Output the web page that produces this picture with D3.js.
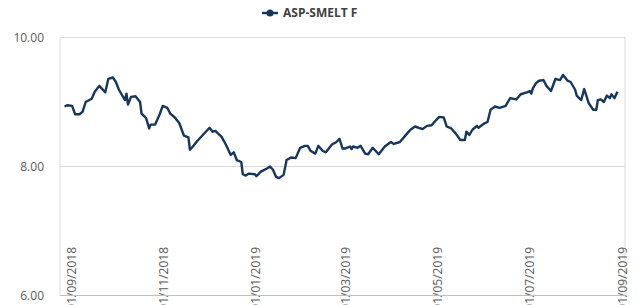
<!DOCTYPE html>
<html><head><meta charset="utf-8">
<script src="https://cdn.jsdelivr.net/npm/d3@7/dist/d3.min.js"></script>
<style>body{margin:0;background:#fff}svg{display:block}</style>
</head><body>
<svg id="c" width="637" height="305"></svg>
<script>
const seriesName = "ASP-SMELT F";
const dates = ["2018-08-27","2018-08-29","2018-09-01","2018-09-03","2018-09-06","2018-09-08","2018-09-10","2018-09-14","2018-09-16","2018-09-19","2018-09-21","2018-09-23","2018-09-25","2018-09-28","2018-09-30","2018-10-02","2018-10-06","2018-10-07","2018-10-08","2018-10-10","2018-10-13","2018-10-16","2018-10-17","2018-10-20","2018-10-22","2018-10-23","2018-10-26","2018-10-29","2018-10-31","2018-11-03","2018-11-05","2018-11-08","2018-11-11","2018-11-14","2018-11-17","2018-11-18","2018-11-20","2018-11-23","2018-11-27","2018-12-01","2018-12-03","2018-12-05","2018-12-09","2018-12-12","2018-12-15","2018-12-17","2018-12-19","2018-12-22","2018-12-23","2018-12-25","2018-12-27","2018-12-31","2019-01-01","2019-01-04","2019-01-08","2019-01-10","2019-01-12","2019-01-14","2019-01-16","2019-01-19","2019-01-21","2019-01-24","2019-01-27","2019-01-30","2019-02-02","2019-02-04","2019-02-06","2019-02-09","2019-02-11","2019-02-14","2019-02-16","2019-02-20","2019-02-23","2019-02-25","2019-02-27","2019-03-01","2019-03-04","2019-03-05","2019-03-06","2019-03-09","2019-03-11","2019-03-14","2019-03-16","2019-03-19","2019-03-23","2019-03-27","2019-03-31","2019-04-02","2019-04-06","2019-04-10","2019-04-13","2019-04-16","2019-04-21","2019-04-24","2019-04-27","2019-04-30","2019-05-02","2019-05-05","2019-05-07","2019-05-10","2019-05-13","2019-05-16","2019-05-19","2019-05-20","2019-05-22","2019-05-24","2019-05-27","2019-05-28","2019-06-01","2019-06-03","2019-06-05","2019-06-08","2019-06-11","2019-06-15","2019-06-18","2019-06-22","2019-06-25","2019-06-29","2019-07-01","2019-07-02","2019-07-03","2019-07-05","2019-07-07","2019-07-10","2019-07-12","2019-07-15","2019-07-18","2019-07-21","2019-07-23","2019-07-26","2019-07-28","2019-07-31","2019-08-01","2019-08-04","2019-08-06","2019-08-07","2019-08-09","2019-08-12","2019-08-14","2019-08-15","2019-08-17","2019-08-19","2019-08-21","2019-08-23","2019-08-24","2019-08-26","2019-08-28"];
const values = [8.93,8.95,8.94,8.81,8.81,8.85,9.00,9.05,9.16,9.25,9.20,9.15,9.36,9.38,9.31,9.19,9.03,9.13,8.96,9.08,9.09,9.00,8.82,8.75,8.59,8.65,8.65,8.81,8.94,8.91,8.82,8.76,8.67,8.48,8.45,8.26,8.31,8.40,8.50,8.60,8.54,8.55,8.46,8.33,8.18,8.22,8.10,8.07,7.88,7.86,7.89,7.88,7.85,7.92,7.97,8.00,7.95,7.84,7.82,7.87,8.10,8.14,8.13,8.29,8.32,8.32,8.24,8.20,8.32,8.24,8.22,8.34,8.38,8.43,8.28,8.28,8.31,8.27,8.31,8.29,8.32,8.20,8.19,8.29,8.19,8.31,8.38,8.35,8.38,8.49,8.57,8.62,8.58,8.63,8.64,8.72,8.77,8.76,8.62,8.59,8.51,8.41,8.41,8.54,8.49,8.57,8.63,8.60,8.67,8.69,8.88,8.93,8.91,8.94,9.06,9.04,9.12,9.15,9.17,9.13,9.21,9.29,9.33,9.34,9.25,9.17,9.36,9.34,9.42,9.33,9.31,9.19,9.10,9.03,9.20,9.13,8.98,8.88,8.88,9.03,9.04,9.00,9.10,9.06,9.12,9.06,9.16];
const xTickDates = ["2018-09-01","2018-11-01","2019-01-01","2019-03-01","2019-05-01","2019-07-01","2019-09-01"];
const yTicks = [6, 8, 10];
const xDomain = ["2018-08-24","2019-09-02"];

const parse = d3.utcParse("%Y-%m-%d");
const fmt = d3.utcFormat("%d/%m/%Y");
const data = dates.map((d,i)=>({date: parse(d), value: values[i]}));

const L = 60, R = 625, T = 37.5, B = 295.5;
const svg = d3.select("#c");
const x = d3.scaleUtc().domain(xDomain.map(parse)).range([L, R]);
const y = d3.scaleLinear().domain([6, 10]).range([B, T]);

// gridlines
svg.append("g").selectAll("line").data(yTicks.filter(v=>v>6)).join("line")
  .attr("x1", L).attr("x2", R).attr("y1", d=>y(d)).attr("y2", d=>y(d))
  .attr("stroke", "#d9d9d9").attr("stroke-width", 1);
// left and right borders
svg.append("line").attr("x1", L).attr("x2", L).attr("y1", T).attr("y2", B).attr("stroke", "#d9d9d9");
svg.append("line").attr("x1", R).attr("x2", R).attr("y1", T).attr("y2", B).attr("stroke", "#d9d9d9");

// y axis labels
const yAxis = d3.axisLeft(y).tickValues(yTicks).tickFormat(d3.format(".2f")).tickSize(0).tickPadding(16);
const gy = svg.append("g").attr("transform", `translate(${L},0)`).call(yAxis);
gy.select(".domain").remove();
gy.selectAll("text").attr("font-family", "'Open Sans', sans-serif").attr("font-size", 12).attr("fill", "#595959");

// x axis labels (rotated)
const gx = svg.append("g");
gx.selectAll("text").data(xTickDates.map(parse)).join("text")
  .attr("transform", d=>`translate(${x(d)+4},247) rotate(-90)`)
  .attr("text-anchor", "end")
  .attr("font-family", "'Open Sans', sans-serif").attr("font-size", 12).attr("fill", "#595959")
  .text(d=>fmt(d));

// x axis line
svg.append("line").attr("x1", L).attr("x2", R).attr("y1", B).attr("y2", B).attr("stroke", "#bfbfbf");

// series line
const line = d3.line().x(d=>x(d.date)).y(d=>y(d.value));
svg.append("path").datum(data).attr("d", line).attr("fill", "none")
  .attr("stroke", "#17365d").attr("stroke-width", 2.4).attr("stroke-linejoin", "round");

// legend
const lg = svg.append("g").attr("transform", "translate(262,13)");
lg.append("line").attr("x1", 0).attr("x2", 16).attr("y1", 0).attr("y2", 0).attr("stroke", "#17365d").attr("stroke-width", 2.4);
lg.append("circle").attr("cx", 8).attr("cy", 0).attr("r", 3.5).attr("fill", "#17365d");
lg.append("text").attr("x", 21).attr("y", 4).attr("font-family", "'Open Sans', sans-serif")
  .attr("font-size", 12).attr("font-weight", "bold").attr("fill", "#404040").text(seriesName);
</script>
</body></html>
